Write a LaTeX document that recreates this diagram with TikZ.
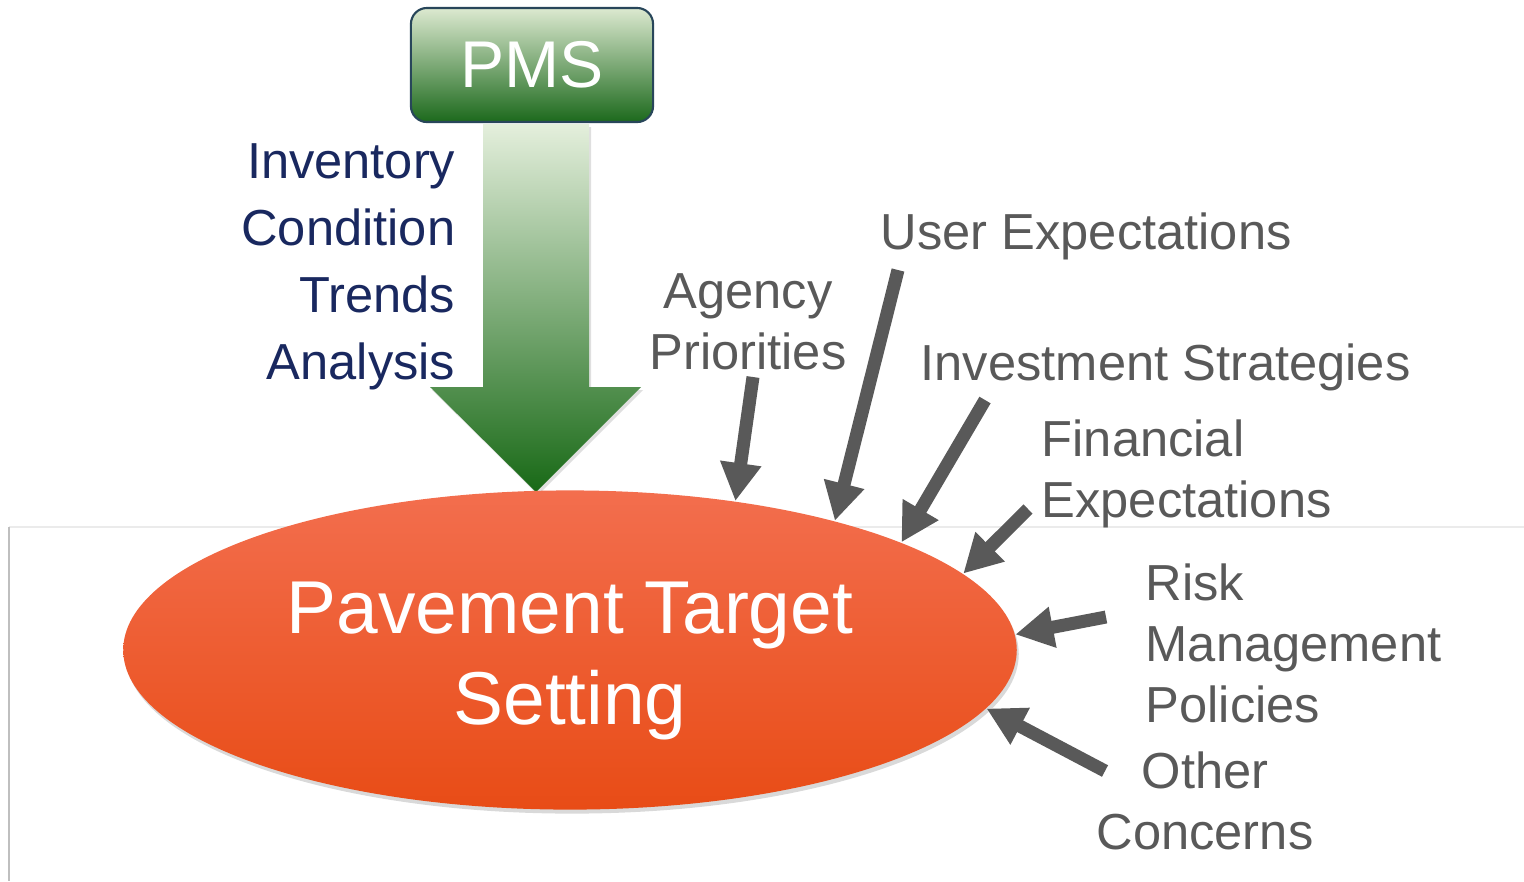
\documentclass[tikz,border=0pt]{standalone}
\usepackage{fontspec}
\setmainfont{Liberation Sans}
\usetikzlibrary{arrows.meta,shapes.geometric,shadows}

\definecolor{pmsnavy}{RGB}{25,40,95}
\definecolor{feedgray}{RGB}{89,89,89}

\begin{document}
\begin{tikzpicture}[x=0.01cm, y=-0.01cm,
    feed/.style={feedgray, line width=0.13cm, -{Triangle[length=0.38cm,width=0.39cm]}},
    factor/.style={inner sep=0, text=feedgray, font=\fontsize{14.4}{17.3}\selectfont},
    pmsbox/.style={draw={rgb,255:red,40;green,70;blue,90}, line width=0.6pt, rounded corners=0.16cm,
        minimum width=2.42cm, minimum height=1.14cm,
        top color={rgb,255:red,220;green,233;blue,208}, middle color={rgb,255:red,160;green,190;blue,120},
        bottom color={rgb,255:red,28;green,105;blue,28}, text=white, font=\fontsize{18.8}{22}\selectfont},
    target/.style={ellipse, inner sep=0, minimum width=8.93cm, minimum height=3.19cm,
        top color={rgb,255:red,243;green,110;blue,78}, middle color={rgb,255:red,249;green,87;blue,34},
        bottom color={rgb,255:red,232;green,76;blue,22},
        drop shadow={opacity=0.3, shadow xshift=0.02cm, shadow yshift=-0.04cm}}
]

    \useasboundingbox (0,0) rectangle (1524,881);

    % faint slide frame
    \draw[line width=0.4pt, black!8] (9,527) -- (1524,527);
    \draw[line width=0.6pt, black!25] (9,527) -- (9,881);

    % PMS box and the big arrow
    \node[pmsbox] at (532,65) (pms) {PMS};
    \shade[top color={rgb,255:red,228;green,239;blue,220}, middle color={rgb,255:red,150;green,188;blue,120},
        bottom color={rgb,255:red,24;green,105;blue,22},
        drop shadow={opacity=0.25, shadow xshift=0.02cm, shadow yshift=-0.03cm}]
        (483,124) -- (589,124) -- (589,387) -- (641,387) -- (536,492) -- (430,387) -- (483,387) -- cycle;

    \node[anchor=north east, align=right, inner sep=0, text=pmsnavy, font=\fontsize{14.4}{19}\selectfont]
        at (456,143) (pmsdata) {Inventory\\Condition\\Trends\\Analysis};

    % target ellipse
    \node[target] at (570,650) (pts) {};
    \node[align=center, text=white, inner sep=0, font=\fontsize{21.3}{25.9}\selectfont]
        at (570,661) (ptstext) {Pavement Target\\Setting};

    % outside factors
    \node[factor, anchor=north, align=center] at (748,273) (agency) {Agency\\Priorities};
    \node[factor, anchor=north west] at (880,212) (user) {User Expectations};
    \node[factor, anchor=north west] at (920,343) (invest) {Investment Strategies};
    \node[factor, anchor=north west, align=left] at (1041,419) (finance) {Financial\\Expectations};
    \node[factor, anchor=north west, align=left] at (1145,563) (risk) {Risk\\Management\\Policies};
    \node[factor, anchor=north, align=center] at (1205,751) (other) {Other\\Concerns};

    \coordinate (agencyTail) at (753,377);
    \coordinate (userTail) at (898,270);
    \coordinate (investTail) at (985,400);
    \coordinate (financeTail) at (1028,509);
    \coordinate (riskTail) at (1106,617);
    \coordinate (otherTail) at (1105,771);

    \draw[feed] (agencyTail) -- (pts.42);
    \draw[feed] (userTail) -- (pts.26);
    \draw[feed] (investTail) -- (pts.18);
    \draw[feed] (financeTail) -- (pts.11);
    \draw[feed] (riskTail) -- (pts.2);
    \draw[feed] (otherTail) -- (pts.-8);

\end{tikzpicture}
\end{document}
